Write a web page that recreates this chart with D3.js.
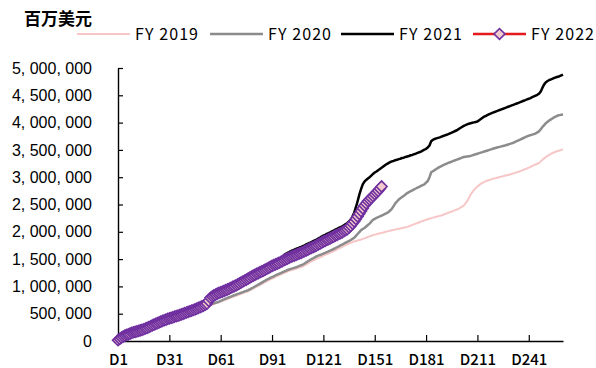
<!DOCTYPE html>
<html>
<head>
<meta charset="utf-8">
<script src="https://cdn.jsdelivr.net/npm/d3@7/dist/d3.min.js"></script>
<style>
  html, body { margin: 0; padding: 0; background: #ffffff; }
  svg { display: block; }
</style>
</head>
<body>
<svg id="chart" width="596" height="368"></svg>
<script>
// Cumulative totals by fiscal-year day (百万美元), one value per day starting at D1.
const seriesNames = ["FY 2019", "FY 2020", "FY 2021", "FY 2022"];
const xTickLabels = ["D1", "D31", "D61", "D91", "D121", "D151", "D181", "D211", "D241"];
const yTickValues = [0, 500000, 1000000, 1500000, 2000000, 2500000, 3000000, 3500000, 4000000, 4500000, 5000000];
const dayCount = 261;

const fy2019 = [
  8000,30000,51000,70000,85000,97000,108000,119000,130000,140000,
  149000,158000,167000,176000,186000,195000,208000,220000,233000,245000,
  258000,270000,283000,297000,310000,323000,337000,350000,362000,373000,
  385000,395000,405000,415000,425000,435000,445000,457000,468000,480000,
  492000,503000,515000,527000,538000,550000,562000,573000,585000,596000,
  607000,619000,630000,642000,653000,665000,676000,687000,699000,710000,
  722000,734000,746000,758000,770000,782000,794000,806000,818000,830000,
  841000,853000,864000,876000,887000,899000,910000,927000,943000,960000,
  976000,992000,1008000,1024000,1040000,1065000,1080000,1095000,1110000,1127000,
  1143000,1158000,1173000,1188000,1203000,1218000,1232000,1246000,1260000,1273000,
  1284000,1294000,1304000,1314000,1324000,1334000,1345000,1356000,1367000,1385000,
  1404000,1423000,1442000,1458000,1473000,1488000,1503000,1518000,1533000,1548000,
  1563000,1576000,1590000,1603000,1618000,1632000,1647000,1662000,1678000,1694000,
  1710000,1726000,1741000,1757000,1772000,1786000,1800000,1812000,1823000,1833000,
  1842000,1851000,1860000,1870000,1880000,1892000,1904000,1916000,1928000,1940000,
  1948000,1956000,1964000,1972000,1980000,1988000,1996000,2004000,2012000,2020000,
  2027000,2034000,2041000,2048000,2055000,2062000,2069000,2076000,2083000,2090000,
  2102000,2114000,2126000,2138000,2150000,2162000,2174000,2186000,2198000,2210000,
  2220000,2230000,2240000,2250000,2260000,2268000,2276000,2284000,2292000,2300000,
  2312000,2324000,2336000,2348000,2360000,2372000,2384000,2396000,2408000,2420000,
  2440000,2460000,2480000,2520000,2560000,2620000,2680000,2725000,2770000,2800000,
  2830000,2855000,2880000,2897000,2913000,2930000,2940000,2950000,2960000,2970000,
  2978000,2986000,2994000,3002000,3010000,3018000,3026000,3034000,3042000,3050000,
  3060000,3070000,3080000,3090000,3100000,3112000,3124000,3136000,3148000,3160000,
  3175000,3190000,3205000,3220000,3233000,3247000,3260000,3290000,3320000,3345000,
  3370000,3390000,3410000,3430000,3443000,3457000,3470000,3480000,3490000,3500000,
  3510000
];

const fy2020 = [
  10000,32000,54000,74000,90000,103000,115000,127000,139000,150000,
  158000,167000,176000,186000,196000,205000,219000,233000,247000,262000,
  276000,290000,304000,317000,330000,344000,357000,370000,380000,390000,
  400000,410000,420000,430000,440000,450000,460000,472000,483000,495000,
  507000,518000,530000,542000,554000,565000,577000,588000,600000,612000,
  625000,637000,650000,660000,670000,680000,690000,700000,710000,720000,
  734000,748000,762000,776000,790000,802000,814000,826000,838000,850000,
  862000,873000,885000,896000,908000,919000,930000,947000,963000,980000,
  998000,1016000,1034000,1052000,1070000,1088000,1105000,1123000,1140000,1155000,
  1170000,1185000,1200000,1215000,1230000,1244000,1258000,1272000,1286000,1300000,
  1310000,1320000,1330000,1340000,1350000,1362000,1375000,1388000,1400000,1420000,
  1440000,1460000,1480000,1498000,1515000,1533000,1550000,1563000,1575000,1588000,
  1600000,1613000,1627000,1640000,1655000,1670000,1685000,1700000,1717000,1733000,
  1750000,1767000,1783000,1800000,1817000,1833000,1850000,1870000,1890000,1925000,
  1960000,1995000,2030000,2050000,2070000,2097000,2123000,2150000,2185000,2220000,
  2237000,2253000,2270000,2283000,2297000,2310000,2327000,2343000,2360000,2390000,
  2420000,2470000,2520000,2555000,2590000,2613000,2637000,2660000,2685000,2710000,
  2727000,2743000,2760000,2777000,2793000,2810000,2825000,2840000,2855000,2870000,
  2900000,2930000,3000000,3090000,3110000,3130000,3150000,3170000,3190000,3205000,
  3220000,3235000,3250000,3262000,3274000,3286000,3298000,3310000,3322000,3334000,
  3346000,3358000,3370000,3375000,3380000,3385000,3390000,3400000,3410000,3420000,
  3430000,3440000,3450000,3460000,3470000,3480000,3490000,3500000,3510000,3520000,
  3530000,3540000,3548000,3556000,3564000,3572000,3580000,3590000,3600000,3610000,
  3620000,3630000,3645000,3660000,3675000,3690000,3704000,3718000,3732000,3746000,
  3760000,3770000,3780000,3790000,3800000,3820000,3840000,3880000,3920000,3955000,
  3990000,4015000,4040000,4060000,4080000,4100000,4115000,4130000,4137000,4144000,
  4150000
];

const fy2021 = [
  12000,35000,57000,78000,95000,108000,119000,133000,145000,155000,
  164000,174000,186000,197000,204000,210000,226000,240000,254000,268000,
  282000,295000,309000,323000,337000,351000,365000,378000,389000,400000,
  410000,420000,430000,440000,450000,460000,470000,482000,494000,506000,
  517000,529000,540000,552000,565000,577000,590000,602000,615000,632000,
  650000,668000,690000,738000,780000,806000,830000,847000,864000,880000,
  895000,910000,925000,940000,955000,970000,988000,1005000,1022000,1040000,
  1058000,1075000,1093000,1110000,1128000,1145000,1163000,1180000,1200000,1220000,
  1240000,1260000,1275000,1290000,1305000,1320000,1337000,1353000,1370000,1388000,
  1405000,1423000,1445000,1465000,1490000,1515000,1540000,1575000,1595000,1612000,
  1628000,1645000,1660000,1672000,1686000,1698000,1712000,1724000,1738000,1752000,
  1768000,1783000,1798000,1813000,1828000,1843000,1858000,1876000,1893000,1911000,
  1929000,1944000,1960000,1974000,1990000,2007000,2023000,2040000,2055000,2070000,
  2085000,2100000,2120000,2140000,2162000,2190000,2225000,2280000,2350000,2450000,
  2560000,2680000,2780000,2870000,2920000,2950000,2975000,3000000,3030000,3060000,
  3085000,3105000,3128000,3150000,3172000,3195000,3218000,3240000,3258000,3275000,
  3290000,3298000,3312000,3318000,3331000,3338000,3352000,3358000,3371000,3380000,
  3388000,3402000,3408000,3421000,3432000,3445000,3457000,3470000,3487000,3503000,
  3520000,3545000,3580000,3660000,3685000,3700000,3710000,3720000,3730000,3742000,
  3754000,3766000,3778000,3790000,3804000,3818000,3832000,3846000,3860000,3880000,
  3900000,3920000,3940000,3953000,3967000,3980000,3988000,3996000,4004000,4012000,
  4020000,4043000,4065000,4088000,4110000,4125000,4140000,4155000,4170000,4182000,
  4194000,4206000,4218000,4230000,4242000,4254000,4266000,4278000,4290000,4302000,
  4314000,4326000,4338000,4350000,4362000,4375000,4387000,4400000,4412000,4425000,
  4437000,4450000,4465000,4480000,4495000,4510000,4530000,4570000,4640000,4700000,
  4740000,4762000,4780000,4793000,4807000,4820000,4830000,4840000,4850000,4865000,
  4880000
];

const fy2022 = [
  15000,38000,60000,82000,100000,112000,121000,135000,149000,160000,
  168000,176000,185000,196000,205000,215000,229000,242000,255000,270000,
  286000,300000,314000,326000,340000,354000,367000,380000,392000,404000,
  415000,424000,434000,445000,455000,464000,475000,487000,498000,510000,
  522000,534000,545000,556000,568000,580000,593000,606000,620000,634000,
  648000,664000,685000,735000,790000,815000,835000,850000,866000,880000,
  893000,906000,920000,933000,946000,960000,975000,990000,1005000,1020000,
  1038000,1055000,1072000,1090000,1108000,1126000,1143000,1160000,1178000,1196000,
  1213000,1230000,1245000,1260000,1275000,1290000,1307000,1323000,1340000,1357000,
  1374000,1390000,1403000,1417000,1430000,1447000,1464000,1480000,1495000,1510000,
  1525000,1540000,1553000,1565000,1578000,1590000,1603000,1616000,1630000,1645000,
  1660000,1675000,1690000,1705000,1720000,1735000,1750000,1768000,1785000,1802000,
  1820000,1835000,1850000,1865000,1880000,1897000,1913000,1930000,1945000,1960000,
  1975000,1990000,2010000,2030000,2050000,2080000,2110000,2150000,2190000,2235000,
  2280000,2330000,2380000,2430000,2480000,2520000,2560000,2590000,2620000,2655000,
  2690000,2720000,2750000,2790000,2830000
];

// Drawing styles for each series
const styles = {
  "FY 2019": { color: "#f7c6c6", width: 2 },
  "FY 2020": { color: "#8c8c8c", width: 2.5 },
  "FY 2021": { color: "#000000", width: 2.5 },
  "FY 2022": { color: "#e41a1c", width: 2.5, marker: true }
};
const markerStroke = "#7030a0";
const markerFill = "#f2cccc";
const markerArea = 60;

const seriesData = [fy2019, fy2020, fy2021, fy2022];
const series = seriesNames.map((name, i) => ({
  name,
  points: seriesData[i].map((v, j) => ({ day: j + 1, value: v }))
}));

const svg = d3.select("#chart");

const x = d3.scaleLinear().domain([1, dayCount]).range([118, 563]);
const y = d3.scaleLinear().domain([0, 5000000]).range([341, 68]);

const fmt = d3.format(",");
const yLabel = v => fmt(v).replace(/,/g, ", ");

// Y axis
const yAxis = svg.append("g")
  .attr("transform", `translate(${x(1)},0)`)
  .call(d3.axisLeft(y)
    .tickValues(yTickValues)
    .tickSizeInner(-5)
    .tickSizeOuter(0)
    .tickPadding(26)
    .tickFormat(yLabel));
yAxis.select(".domain").attr("stroke", "#000").attr("stroke-width", 1.4);
yAxis.selectAll(".tick line").attr("stroke", "#000").attr("stroke-width", 1.2);
yAxis.selectAll(".tick text")
  .attr("fill", "#000")
  .style("font-family", "'Liberation Sans', Arial, sans-serif")
  .style("font-size", "16px");

// X axis
const xTickDays = xTickLabels.map(s => +s.slice(1));
const xAxis = svg.append("g")
  .attr("transform", `translate(0,${y(0)})`)
  .call(d3.axisBottom(x)
    .tickValues(xTickDays)
    .tickSizeInner(-6)
    .tickSizeOuter(0)
    .tickPadding(13)
    .tickFormat((d, i) => xTickLabels[i]));
xAxis.select(".domain").attr("stroke", "#000").attr("stroke-width", 1.4);
xAxis.selectAll(".tick line").attr("stroke", "#000").attr("stroke-width", 1.2);
xAxis.selectAll(".tick text")
  .attr("fill", "#000")
  .style("font-family", "'Noto Sans CJK SC', sans-serif")
  .style("font-size", "15px")
  .style("font-weight", "500");

// Series lines
const line = d3.line().x(d => x(d.day)).y(d => y(d.value));
const plot = svg.append("g");
series.forEach(s => {
  const st = styles[s.name];
  plot.append("path")
    .datum(s.points)
    .attr("fill", "none")
    .attr("stroke", st.color)
    .attr("stroke-width", st.width)
    .attr("stroke-linejoin", "round")
    .attr("d", line);
  if (st.marker) {
    const diamond = d3.symbol().type(d3.symbolSquare).size(markerArea);
    plot.append("g").selectAll("path")
      .data(s.points)
      .join("path")
      .attr("d", diamond)
      .attr("transform", d => `translate(${x(d.day)},${y(d.value)}) rotate(45)`)
      .attr("fill", markerFill)
      .attr("stroke", markerStroke)
      .attr("stroke-width", 1.6);
  }
});

// Unit title
svg.append("text")
  .attr("x", 24).attr("y", 25)
  .style("font-family", "'Noto Sans CJK SC', sans-serif")
  .style("font-size", "17px")
  .style("font-weight", "bold")
  .attr("fill", "#000")
  .text("百万美元");

// Legend
const legendX = [77, 210, 341, 473];
const legendY = 34;
const legend = svg.append("g");
seriesNames.forEach((name, i) => {
  const st = styles[name];
  const g = legend.append("g").attr("transform", `translate(${legendX[i]},${legendY})`);
  g.append("line")
    .attr("x1", 0).attr("x2", 53).attr("y1", 0).attr("y2", 0)
    .attr("stroke", st.color).attr("stroke-width", st.width);
  if (st.marker) {
    g.append("path")
      .attr("d", d3.symbol().type(d3.symbolSquare).size(markerArea)())
      .attr("transform", "translate(26.5,0) rotate(45)")
      .attr("fill", markerFill)
      .attr("stroke", markerStroke)
      .attr("stroke-width", 1.6);
  }
  g.append("text")
    .attr("x", 58).attr("y", 0).attr("dy", "0.36em")
    .attr("textLength", 63).attr("lengthAdjust", "spacing")
    .style("font-family", "'Noto Sans CJK SC', sans-serif")
    .style("font-size", "16px")
    .attr("fill", "#000")
    .text(name);
});
</script>
</body>
</html>
